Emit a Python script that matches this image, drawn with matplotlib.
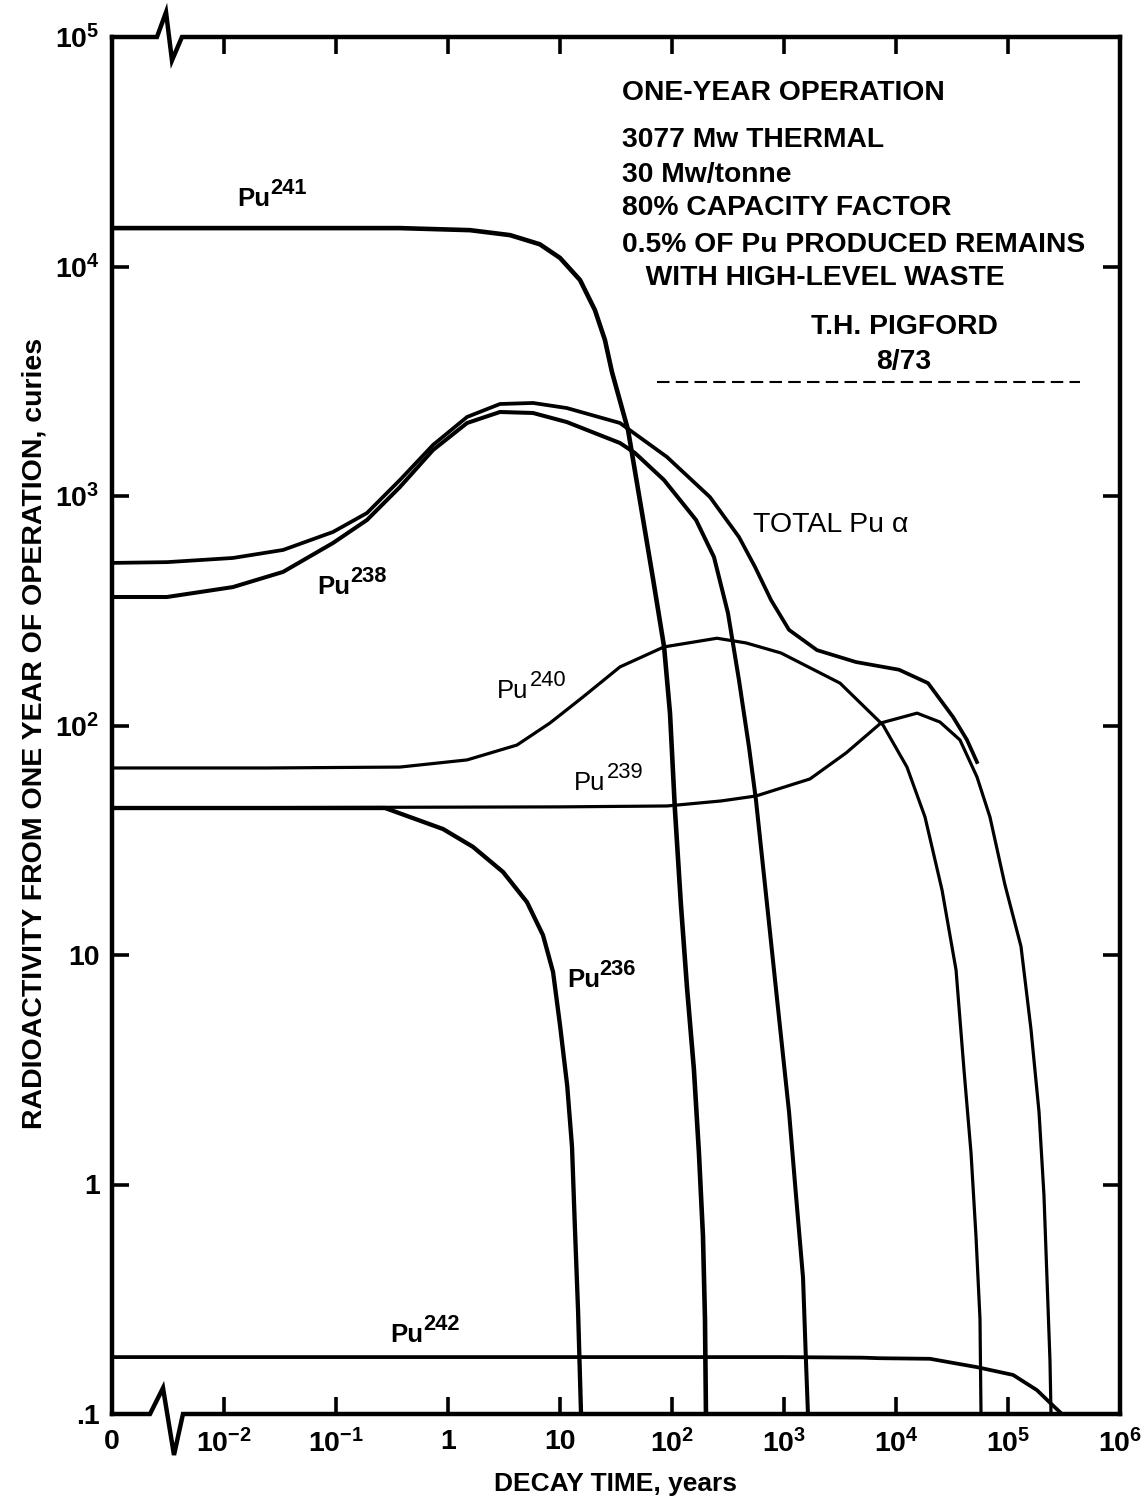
import numpy as np
import matplotlib
matplotlib.use('Agg')
import matplotlib.pyplot as plt

plt.rcParams['font.family'] = ['Liberation Sans', 'DejaVu Sans']
plt.rcParams['mathtext.fontset'] = 'custom'
plt.rcParams['mathtext.rm'] = 'Liberation Sans:bold'
plt.rcParams['mathtext.bf'] = 'Liberation Sans:bold'
plt.rcParams['mathtext.default'] = 'bf'

# decay time (years) / activity (curies)
pu241_t = [0, 0.37, 1.57, 3.58, 6.6, 10, 15.1, 20.5, 25.2, 29.1, 40.5, 54, 68, 85,
           96, 106, 120, 136, 157, 174, 189, 197, 201]
pu241_a = [14700, 14700, 14400, 13700, 12500, 10900, 8730, 6460, 4780, 3470, 1940,
           843, 430, 220, 113, 43.7, 16.7, 7.26, 3.16, 1.37, 0.597, 0.259, 0.1]

total_t = [0, 0.0031, 0.012, 0.0337, 0.094, 0.189, 0.372, 0.734, 1.48, 2.91, 5.74,
           11.5, 34.3, 90.2, 218, 396, 551, 766, 1109, 1972, 4395, 10640, 19320,
           32280, 43050, 52840]
total_a = [511, 515, 537, 582, 697, 843, 1174, 1668, 2210, 2517, 2543, 2417, 2080,
           1479, 990, 663, 491, 352, 261, 213, 189, 175, 153, 109, 86.5, 69.3]

pu238_t = [0, 0.0031, 0.012, 0.0337, 0.094, 0.189, 0.372, 0.734, 1.48, 2.91, 5.74,
           11.5, 34.3, 46.7, 84.8, 164, 237, 316, 396, 487, 562, 705, 884, 1109,
           1279, 1479, 1571, 1637]
pu238_a = [363, 363, 401, 467, 624, 786, 1094, 1585, 2080, 2323, 2300, 2100, 1702,
           1540, 1174, 786, 542, 309, 158, 80.5, 47.3, 16.7, 5.87, 2.07, 0.90,
           0.392, 0.170, 0.1]

pu240_t = [0, 0.0242, 0.372, 1.48, 4.13, 8.15, 16.0, 34.3, 84.8, 252, 458, 940,
           3162, 7650, 12530, 18160, 25760, 34360, 40460, 46770, 51760, 56230, 57410]
pu240_a = [65.3, 65.3, 65.9, 70.8, 82.2, 102.6, 133, 180, 220, 240, 229, 207, 153,
           100.5, 65.9, 39.9, 19.2, 8.61, 3.16, 1.37, 0.597, 0.259, 0.1]

pu239_t = [0, 10, 90.2, 274, 562, 1706, 3581, 7345, 15420, 24720, 37240, 52840,
           69020, 93970, 130600, 160300, 189200, 209400, 222800, 237100, 242100]
pu239_a = [43.7, 44.2, 44.6, 46.9, 49.3, 58.5, 75.9, 102.6, 113.2, 103.5, 86.5, 59.7,
           39.9, 20.2, 10.9, 4.76, 2.07, 0.90, 0.392, 0.170, 0.1]

pu236_t = [0, 0.274, 0.902, 1.67, 3.10, 5.07, 7.05, 8.67, 10, 11.6, 12.8, 13.6, 14.5, 15.4]
pu236_a = [43.7, 43.7, 35.4, 29.6, 23.0, 17.0, 12.2, 8.43, 4.95, 2.69, 1.46, 0.64,
           0.281, 0.101]

pu242_t = [0, 1000, 5000, 7200, 20100, 52840, 111000, 181500, 237100, 303400]
pu242_a = [0.177, 0.177, 0.176, 0.175, 0.174, 0.160, 0.148, 0.127, 0.112, 0.100]

x_ticks = [1e-3, 1e-2, 1e-1, 1, 10, 1e2, 1e3, 1e4, 1e5, 1e6]
x_labels = ['0', '$10^{-2}$', '$10^{-1}$', '1', '10', '$10^2$', '$10^3$', '$10^4$',
            '$10^5$', '$10^6$']
y_ticks = [0.1, 1, 10, 1e2, 1e3, 1e4, 1e5]
y_labels = ['.1', '1', '10', '$10^2$', '$10^3$', '$10^4$', '$10^5$']

notes = ['ONE-YEAR OPERATION', '3077 Mw THERMAL', '30 Mw/tonne',
         '80% CAPACITY FACTOR', '0.5% OF Pu PRODUCED REMAINS', '   WITH HIGH-LEVEL WASTE']

T_ZERO = 1e-3  # position of the "0" on the broken time axis
W, H = 1148, 1506


def t_axis(t):
    t = np.asarray(t, dtype=float)
    return np.where(t == 0, T_ZERO, t)


def pu_label(ax, x, y, mass, weight='bold', size=18.5):
    ax.text(x, y, 'Pu', fontsize=size, fontweight=weight, ha='left', va='center')
    ax.annotate(mass, (x, y), xytext=(size * 1.28, size * 0.4), textcoords='offset points',
                fontsize=size * 0.85, fontweight=weight, ha='left', va='center')


fig = plt.figure(figsize=(W / 100, H / 100), dpi=100)
ax = fig.add_axes([112 / W, 1 - 1414 / H, 1008 / W, 1377 / H])
ax.set_xscale('log')
ax.set_yscale('log')

ax.plot(t_axis(pu241_t), pu241_a, color='k', lw=3.3)
ax.plot(t_axis(total_t), total_a, color='k', lw=2.7)
ax.plot(t_axis(pu238_t), pu238_a, color='k', lw=2.9)
ax.plot(t_axis(pu240_t), pu240_a, color='k', lw=2.3)
ax.plot(t_axis(pu239_t), pu239_a, color='k', lw=2.3)
ax.plot(t_axis(pu236_t), pu236_a, color='k', lw=3.1)
ax.plot(t_axis(pu242_t), pu242_a, color='k', lw=2.7)

ax.set_xlim(1e-3, 1e6)
ax.set_ylim(0.1, 1e5)
ax.set_xticks(x_ticks)
ax.set_xticklabels(x_labels, fontweight='bold')
ax.set_yticks(y_ticks)
ax.set_yticklabels(y_labels, fontweight='bold')
ax.minorticks_off()
ax.tick_params(which='major', direction='in', length=12, width=2.6, top=True,
               right=True, labelsize=20.5, pad=9)
ax.tick_params(axis='x', pad=11)

# broken time axis: draw top/bottom frame with the zigzag
for s in ['top', 'bottom']:
    ax.spines[s].set_visible(False)
for s in ['left', 'right']:
    ax.spines[s].set_linewidth(3.2)
ax.plot([0, 0.0446, 0.0536, 0.0595, 0.0694, 1], [1, 1, 1.018, 0.983, 1, 1],
        transform=ax.transAxes, clip_on=False, color='k', lw=3.2, solid_joinstyle='miter')
ax.plot([0, 0.0377, 0.0506, 0.0615, 0.0704, 1], [0, 0, 0.0189, -0.0298, 0, 0],
        transform=ax.transAxes, clip_on=False, color='k', lw=3.2, solid_joinstyle='miter')

pu_label(ax, 0.0131, 19700, '241')
pu_label(ax, 0.0676, 401, '238')
pu_label(ax, 2.74, 141, '240', weight='normal')
pu_label(ax, 13.3, 56.1, '239', weight='normal')
pu_label(ax, 11.5, 7.78, '236')
pu_label(ax, 0.303, 0.221, '242')
ax.text(528, 748, 'TOTAL Pu α', fontsize=20.5, ha='left', va='center')

ax.set_xlabel('DECAY TIME, years', fontsize=19, fontweight='bold', labelpad=10)
fig.text(35 / W, 1 - 733 / H, 'RADIOACTIVITY FROM ONE YEAR OF OPERATION, curies',
         rotation=90, fontsize=20.5, fontweight='bold', ha='center', va='center')

for yy, line in zip([93, 140, 175, 208, 245, 278], notes):
    fig.text(622 / W, 1 - yy / H, line, fontsize=20.3, fontweight='bold',
             ha='left', va='center')
fig.text(904 / W, 1 - 327 / H, 'T.H. PIGFORD', fontsize=20.3, fontweight='bold',
         ha='center', va='center')
fig.text(904 / W, 1 - 362 / H, '8/73', fontsize=20.3, fontweight='bold',
         ha='center', va='center')
ax.plot([657 / W, 1080 / W], [1 - 382 / H, 1 - 382 / H], transform=fig.transFigure,
        clip_on=False, color='k', lw=1.5, ls=(0, (6, 3)))

fig.savefig('out.png', dpi=100)
